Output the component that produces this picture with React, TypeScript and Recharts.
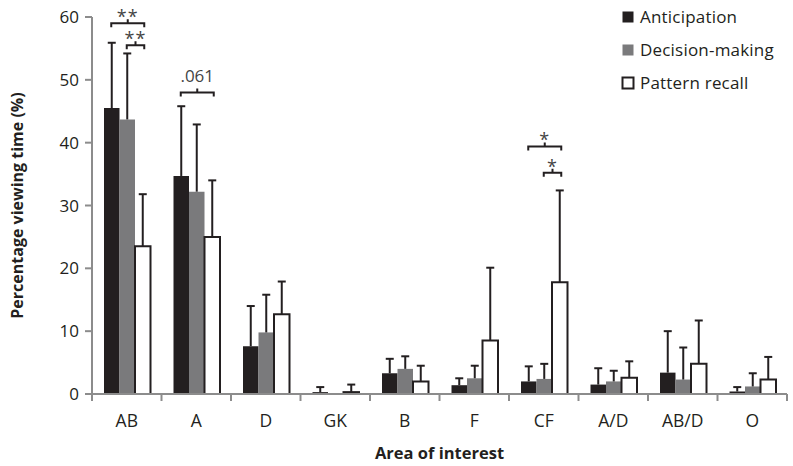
import React from "react";
import { BarChart, Bar, XAxis, YAxis, ErrorBar, ReferenceDot } from "recharts";

const categories = ["AB", "A", "D", "GK", "B", "F", "CF", "A/D", "AB/D", "O"];
const anticipation = [45.5, 34.7, 7.6, 0.3, 3.3, 1.4, 2.0, 1.5, 3.4, 0.4];
const anticipationSd = [10.4, 11.1, 6.4, 0.8, 2.3, 1.1, 2.4, 2.6, 6.6, 0.7];
const decision = [43.7, 32.2, 9.8, 0, 4.0, 2.5, 2.4, 2.0, 2.3, 1.2];
const decisionSd = [10.5, 10.7, 6.0, null, 2.0, 2.0, 2.4, 1.7, 5.1, 2.1];
const recall = [23.5, 25.0, 12.7, 0.3, 2.0, 8.5, 17.8, 2.6, 4.8, 2.3];
const recallSd = [8.3, 9.0, 5.2, 1.2, 2.5, 11.6, 14.6, 2.6, 6.9, 3.6];
const yTicks = [0, 10, 20, 30, 40, 50, 60];

// significance brackets: from/to are bar slots (-1 black, 0 grey, 1 white)
const brackets = [
  { area: "AB", y: 59, from: -1, to: 1, label: "**" },
  { area: "AB", y: 55.5, from: 0, to: 1, label: "**" },
  { area: "A", y: 48, from: -1, to: 1, label: ".061" },
  { area: "CF", y: 39.4, from: -1, to: 1, label: "*" },
  { area: "CF", y: 35.2, from: 0, to: 1, label: "*" },
];

const W = 793;
const H = 466;
const margin = { top: 17, right: 6, bottom: 0, left: 0 };
const Y_AXIS_W = 92;
const BAR = 15.5;
const INK = "#231f20";
const GREY = "#7a7a7c";
const AXIS = "#8c8c8c";
const FONT = "'Open Sans', sans-serif";

const band = (W - margin.left - margin.right - Y_AXIS_W) / categories.length;

const chartData = categories.map((name, i) => ({
  name,
  anticipation: anticipation[i],
  anticipationErr: [0, anticipationSd[i]],
  decision: decision[i],
  decisionErr: decisionSd[i] == null ? null : [0, decisionSd[i]],
  recall: recall[i],
  recallErr: [0, recallSd[i]],
}));

const legendItems = [
  { label: "Anticipation", fill: INK, stroke: "none" },
  { label: "Decision-making", fill: GREY, stroke: "none" },
  { label: "Pattern recall", fill: "#fff", stroke: INK },
];

function LegendBox() {
  return (
    <div
      style={{
        position: "absolute",
        left: 621,
        top: 0,
        fontFamily: FONT,
        fontSize: 17,
        color: INK,
      }}
    >
      {legendItems.map((it) => (
        <div key={it.label} style={{ display: "flex", alignItems: "center", height: 33 }}>
          <svg width={14} height={14} style={{ marginRight: 5 }}>
            <rect x={1.5} y={1.5} width={11} height={11} fill={it.fill} stroke={it.stroke} strokeWidth={2} />
          </svg>
          <span style={{ letterSpacing: 0.2 }}>{it.label}</span>
        </div>
      ))}
    </div>
  );
}

function XTick(props: any) {
  const { x, y, payload, index } = props;
  const last = index === categories.length - 1;
  return (
    <g>
      <line x1={x - band / 2} y1={y} x2={x - band / 2} y2={y + 7} stroke={AXIS} strokeWidth={2} />
      {last && (
        <line x1={x + band / 2} y1={y} x2={x + band / 2} y2={y + 7} stroke={AXIS} strokeWidth={2} />
      )}
      <text x={x} y={y + 33} textAnchor="middle" fontSize={17.5} fill={INK} fontFamily={FONT}>
        {payload.value}
      </text>
    </g>
  );
}

function Bracket(props: any) {
  const { cx, cy, from, to, label } = props;
  const x1 = cx + from * BAR;
  const x2 = cx + to * BAR + 2;
  const mid = (x1 + x2) / 2;
  const star = label.startsWith("*");
  return (
    <g>
      <path
        d={`M${x1} ${cy + 4} V${cy} H${x2} V${cy + 4} M${mid} ${cy} V${cy - 4}`}
        fill="none"
        stroke={INK}
        strokeWidth={2}
      />
      <text
        x={mid}
        y={star ? cy : cy - 10}
        textAnchor="middle"
        fontSize={star ? 18 : 17}
        fill="#444"
        fontFamily={FONT}
        letterSpacing={star ? 1 : 0}
      >
        {label}
      </text>
    </g>
  );
}

export default function App() {
  return (
    <div style={{ position: "absolute", left: 0, top: 0, width: W, height: H, background: "#fff" }}>
      <style>{`.recharts-errorBar line:nth-of-type(3){display:none}`}</style>
      <BarChart width={W} height={H} data={chartData} margin={margin} barGap={0} barSize={BAR}>
        <XAxis
          dataKey="name"
          height={72}
          axisLine={{ stroke: AXIS, strokeWidth: 2 }}
          tickLine={false}
          tickSize={0}
          tickMargin={0}
          tick={<XTick />}
          interval={0}
          label={{
            value: "Area of interest",
            position: "insideBottom",
            offset: 7,
            fontSize: 16.5,
            fontWeight: 700,
            fill: INK,
            fontFamily: FONT,
          }}
        />
        <YAxis
          width={Y_AXIS_W}
          domain={[0, 60]}
          ticks={yTicks}
          axisLine={{ stroke: AXIS, strokeWidth: 2 }}
          tickLine={{ stroke: AXIS, strokeWidth: 2 }}
          tickSize={7}
          tickMargin={6}
          tick={{ fill: INK, fontSize: 17, fontFamily: FONT }}
          label={({ viewBox }: any) => {
            const cx = viewBox.x + 23;
            const cy = viewBox.y + viewBox.height / 2;
            return (
              <text
                x={cx}
                y={cy}
                transform={`rotate(-90 ${cx} ${cy})`}
                textAnchor="middle"
                fontSize={16}
                fontWeight={700}
                fill={INK}
                fontFamily={FONT}
              >
                Percentage viewing time (%)
              </text>
            );
          }}
        />
        <Bar dataKey="anticipation" fill={INK} isAnimationActive={false}>
          <ErrorBar dataKey="anticipationErr" width={4} stroke={INK} strokeWidth={2} isAnimationActive={false} />
        </Bar>
        <Bar dataKey="decision" fill={GREY} isAnimationActive={false}>
          <ErrorBar dataKey="decisionErr" width={4} stroke={INK} strokeWidth={2} isAnimationActive={false} />
        </Bar>
        <Bar dataKey="recall" fill="#fff" stroke={INK} strokeWidth={2} isAnimationActive={false}>
          <ErrorBar dataKey="recallErr" width={4} stroke={INK} strokeWidth={2} isAnimationActive={false} />
        </Bar>
        {brackets.map((b, i) => (
          <ReferenceDot
            key={i}
            x={b.area}
            y={b.y}
            r={0}
            ifOverflow="visible"
            shape={(p: any) => <Bracket {...p} from={b.from} to={b.to} label={b.label} />}
          />
        ))}
      </BarChart>
      <LegendBox />
    </div>
  );
}
